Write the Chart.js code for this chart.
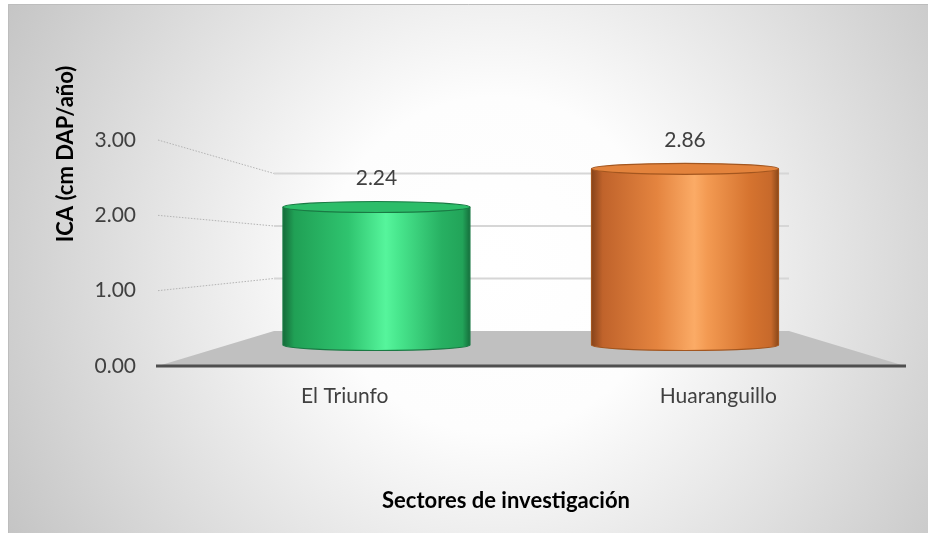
<!DOCTYPE html>
<html>
<head>
<meta charset="utf-8">
<script src="https://cdn.jsdelivr.net/npm/chart.js@4.4.1/dist/chart.umd.min.js"></script>
<style>
  html, body { margin: 0; padding: 0; background: #fff; }
  #wrap { width: 928px; height: 533px; position: relative; }
</style>
</head>
<body>
<div id="wrap"><canvas id="ica"></canvas></div>
<script>
// Incremento corriente anual por sector
const sectores = ['El Triunfo', 'Huaranguillo'];
const icaValores = [2.24, 2.86];
const ticksY = [0, 1, 2, 3];
const tituloY = 'ICA (cm DAP/año)';
const tituloX = 'Sectores de investigación';

const FUENTE = 'Lato, "Open Sans", sans-serif';
const TEXTO = '#404040';

// colores de cada cilindro: cuerpo (degradado horizontal), tapa y borde
const paletas = [
  {
    body: [[0, '#166b3a'], [0.06, '#20a055'], [0.35, '#2fc46f'], [0.55, '#56f59c'], [0.62, '#48e68d'], [0.85, '#27b062'], [0.96, '#22a459'], [1, '#16703d']],
    cap: '#2cbd69', rim: '#1a7a44'
  },
  {
    body: [[0, '#86431a'], [0.06, '#c0632b'], [0.35, '#e4843f'], [0.55, '#fbab66'], [0.62, '#f39a52'], [0.85, '#d5732f'], [0.96, '#c7692b'], [1, '#8a4819']],
    cap: '#e3833c', rim: '#a3561f'
  }
];

// profundidad de las paredes (pared del fondo respecto al borde frontal del piso)
const FONDO_INSET = 116;

function cilindro(ctx, cx, hw, top, base, p) {
  const ry = 5.5;
  const g = ctx.createLinearGradient(cx - hw, 0, cx + hw, 0);
  p.body.forEach(([o, c]) => g.addColorStop(o, c));
  ctx.save();
  // cuerpo con la mitad frontal de la base
  const contorno = () => {
    ctx.beginPath();
    ctx.moveTo(cx - hw, top);
    ctx.lineTo(cx - hw, base);
    ctx.ellipse(cx, base, hw, ry, 0, Math.PI, 0, true);
    ctx.lineTo(cx + hw, top);
  };
  contorno();
  ctx.closePath();
  ctx.fillStyle = g;
  ctx.fill();
  ctx.strokeStyle = p.rim;
  ctx.lineWidth = 1.2;
  contorno();
  ctx.stroke();
  // tapa superior
  ctx.beginPath();
  ctx.ellipse(cx, top, hw, ry, 0, 0, Math.PI * 2);
  ctx.fillStyle = p.cap;
  ctx.fill();
  ctx.stroke();
  ctx.restore();
}

const escena3d = {
  id: 'escena3d',
  beforeDraw(chart) {
    const { ctx, width, height } = chart;
    ctx.save();
    ctx.fillStyle = '#ffffff';
    ctx.fillRect(0, 0, width, height);
    const g = ctx.createRadialGradient(495, 265, 0, 495, 265, 560);
    g.addColorStop(0, '#ffffff');
    g.addColorStop(0.3, '#fdfdfd');
    g.addColorStop(1, '#c4c4c4');
    ctx.fillStyle = g;
    ctx.fillRect(8, 4, width - 8, height - 4);
    ctx.strokeStyle = '#bdbdbd';
    ctx.lineWidth = 1;
    ctx.beginPath();
    ctx.moveTo(8.5, height);
    ctx.lineTo(8.5, 4.5);
    ctx.lineTo(width, 4.5);
    ctx.stroke();
    ctx.restore();
  },
  beforeDatasetsDraw(chart) {
    const { ctx, chartArea: a } = chart;
    const yF = chart.scales.y, yB = chart.scales.yBack;
    const bl = a.left + FONDO_INSET, br = a.right - FONDO_INSET;
    ctx.save();
    // líneas de división: pared lateral (punteadas) y pared del fondo
    ticksY.filter(v => v > 0).forEach(v => {
      const yf = yF.getPixelForValue(v), yb = yB.getPixelForValue(v);
      ctx.strokeStyle = '#b4b4b4';
      ctx.lineWidth = 1;
      ctx.setLineDash([1.5, 1.5]);
      ctx.beginPath();
      ctx.moveTo(a.left, yf);
      ctx.lineTo(bl, yb);
      ctx.stroke();
      ctx.setLineDash([]);
      ctx.strokeStyle = '#d6d6d6';
      ctx.lineWidth = 2;
      ctx.beginPath();
      ctx.moveTo(bl, yb);
      ctx.lineTo(br, yb);
      ctx.stroke();
    });
    // piso
    const y0f = yF.getPixelForValue(0), y0b = yB.getPixelForValue(0);
    ctx.fillStyle = '#c0c0c0';
    ctx.beginPath();
    ctx.moveTo(a.left, y0f);
    ctx.lineTo(bl, y0b);
    ctx.lineTo(br, y0b);
    ctx.lineTo(a.right, y0f);
    ctx.closePath();
    ctx.fill();
    ctx.strokeStyle = '#4f4f4f';
    ctx.lineWidth = 3;
    ctx.beginPath();
    ctx.moveTo(a.left - 2, y0f);
    ctx.lineTo(a.right + 1, y0f);
    ctx.stroke();
    ctx.restore();
  },
  afterDatasetsDraw(chart) {
    const { ctx } = chart;
    const meta = chart.getDatasetMeta(0);
    meta.data.forEach((bar, i) => {
      const { x, y, base, width } = bar.getProps(['x', 'y', 'base', 'width'], true);
      cilindro(ctx, x, width / 2, y, base, paletas[i % paletas.length]);
      ctx.save();
      ctx.fillStyle = TEXTO;
      ctx.font = '21px ' + FUENTE;
      ctx.textAlign = 'center';
      ctx.textBaseline = 'middle';
      ctx.fillText(icaValores[i].toFixed(2), x, y - 29);
      ctx.restore();
    });
  },
  afterDraw(chart) {
    const { ctx } = chart;
    ctx.save();
    ctx.fillStyle = '#000';
    ctx.font = 'bold 22px ' + FUENTE;
    ctx.textAlign = 'center';
    ctx.textBaseline = 'middle';
    ctx.fillText(tituloX, 506, 501);
    ctx.translate(66, 154);
    ctx.rotate(-Math.PI / 2);
    ctx.fillText(tituloY, 0, 0);
    ctx.restore();
  }
};

new Chart(document.getElementById('ica'), {
  type: 'bar',
  data: {
    labels: sectores,
    datasets: [{
      label: tituloY,
      data: icaValores.map((v, i) => ({ x: i, y: v })),
      xAxisID: 'xBar',
      yAxisID: 'yBar',
      backgroundColor: 'rgba(0,0,0,0)',
      borderWidth: 0,
      barPercentage: 0.606,
      categoryPercentage: 1
    }]
  },
  options: {
    responsive: true,
    maintainAspectRatio: false,
    animation: false,
    layout: { padding: { top: 140, right: 23, left: 0, bottom: 0 } },
    plugins: { legend: { display: false }, tooltip: { enabled: false } },
    scales: {
      // eje frontal visible
      x: {
        type: 'category',
        position: 'bottom',
        grid: { display: false, drawTicks: false },
        border: { display: false },
        ticks: { color: TEXTO, font: { family: FUENTE, size: 21 }, padding: 18 },
        afterFit: s => { s.height = 167; }
      },
      y: {
        type: 'linear',
        position: 'left',
        min: 0, max: 3,
        afterBuildTicks: s => { s.ticks = ticksY.map(v => ({ value: v })); },
        grid: { display: false, drawTicks: false },
        border: { display: false },
        ticks: { color: TEXTO, font: { family: FUENTE, size: 21 }, padding: 22, callback: v => v.toFixed(2) },
        afterFit: s => { s.width = 158; }
      },
      // planos ocultos: cilindros a media profundidad y pared del fondo
      xBar: {
        type: 'linear', display: false,
        offset: false, grid: { offset: false },
        min: -0.708, max: 1.713,
        afterBuildTicks: s => { s.ticks = sectores.map((_, i) => ({ value: i })); }
      },
      yBar: { type: 'linear', display: false, min: -0.341, max: 3.328 },
      yBack: { type: 'linear', display: false, min: -0.667, max: 3.638 }
    }
  },
  plugins: [escena3d]
});
</script>
</body>
</html>
